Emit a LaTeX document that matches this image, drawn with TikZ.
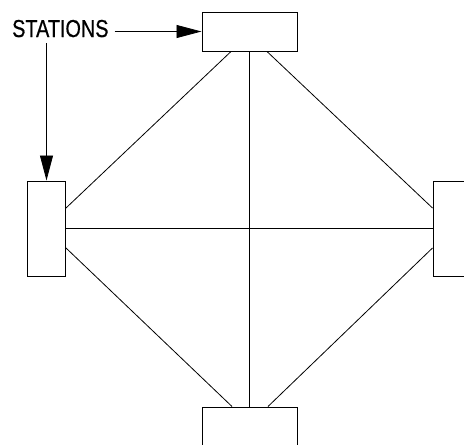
\documentclass[tikz,border=0pt]{standalone}
\usepackage{fontspec}
\newfontfamily\labelfont[FakeStretch=0.81, FakeBold=0.6]{Liberation Sans}
\usetikzlibrary{arrows.meta}

\begin{document}
\begin{tikzpicture}[x=1pt, y=-1pt]
    % Define styles
    \tikzstyle{station} = [rectangle, draw, line width=1pt, inner sep=0pt]
    \tikzstyle{wide} = [station, minimum width=95pt, minimum height=39pt]
    \tikzstyle{tall} = [station, minimum width=38pt, minimum height=95pt]
    \tikzstyle{link} = [line width=0.8pt]
    \tikzstyle{arrow} = [line width=0.8pt, -{Triangle[length=25pt, width=13pt]}]

    \useasboundingbox (0,0) rectangle (464,445);

    % Stations
    \node[wide] (top) at (249.5,31.5) {};
    \node[tall] (left) at (46.5,228.5) {};
    \node[tall] (right) at (452,228.5) {};
    \node[wide] (bottom) at (249.5,426.5) {};

    % Label
    \node[anchor=base west, inner sep=0pt, font=\labelfont\fontsize{24.5}{28}\selectfont] (label) at (12,37) {STATIONS};

    % Connections
    \draw[link] ([xshift=-18.5pt]top.south) -- ([yshift=20.5pt]left.east);
    \draw[link] ([xshift=17.5pt]top.south) -- ([yshift=20.5pt]right.west);
    \draw[link] (top.south) -- (bottom.north);
    \draw[link] (left.east) -- (right.west);
    \draw[link] ([xshift=-17.5pt]bottom.north) -- ([yshift=-19.5pt]left.east);
    \draw[link] ([xshift=18.5pt]bottom.north) -- ([yshift=-19.5pt]right.west);

    % Pointers
    \draw[arrow] ([xshift=6pt]label.east |- top.west) -- (top.west);
    \draw[arrow] ([yshift=-6pt]label.south -| left.north) -- (left.north);
\end{tikzpicture}
\end{document}
